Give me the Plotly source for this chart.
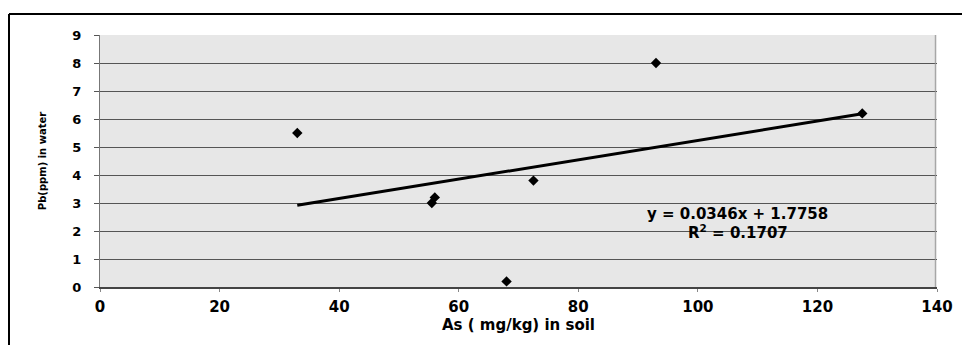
import numpy as np
import plotly.graph_objects as go

# Data
as_soil = [33.0, 55.5, 56.0, 68.0, 72.5, 93.0, 127.5]
pb_water = [5.5, 3.0, 3.2, 0.2, 3.8, 8.0, 6.2]
slope = 0.0346
intercept = 1.7758
r_squared = 0.1707
x_ticks = [0, 20, 40, 60, 80, 100, 120, 140]
y_ticks = [0, 1, 2, 3, 4, 5, 6, 7, 8, 9]

FONT = "DejaVu Sans, Liberation Sans, Arial, sans-serif"

x_line = [min(as_soil), max(as_soil)]
y_line = [slope * v + intercept for v in x_line]

fig = go.Figure()
fig.add_trace(go.Scatter(x=x_line, y=y_line, mode="lines",
                         line=dict(color="black", width=3), hoverinfo="skip"))
fig.add_trace(go.Scatter(x=as_soil, y=pb_water, mode="markers",
                         marker=dict(symbol="diamond", size=8, color="black")))

fig.update_layout(
    width=962, height=345,
    margin=dict(l=100, r=25, t=35, b=58, autoexpand=False),
    paper_bgcolor="white",
    plot_bgcolor="#e7e7e7",
    showlegend=False,
    font=dict(family=FONT, color="black"),
    xaxis=dict(range=[0, 140], tickvals=x_ticks, showgrid=False, zeroline=False,
               automargin=False,
               showline=True, linecolor="#444", linewidth=1.5, mirror=False,
               ticks="outside", ticklen=3, tickcolor="#888",
               tickfont=dict(size=15, family=FONT, weight="bold"),
               ticklabelstandoff=2,
               title=dict(text="As ( mg/kg) in soil", standoff=4,
                          font=dict(size=15, family=FONT, weight="bold"))),
    yaxis=dict(range=[0, 9], tickvals=y_ticks, showgrid=True, gridcolor="#555",
               automargin=False,
               gridwidth=1, zeroline=False, showline=True, linecolor="#777",
               linewidth=1, ticks="outside", ticklen=5, tickcolor="#555",
               tickfont=dict(size=13, family=FONT, weight="bold"),
               ticklabelstandoff=10,
               title=dict(text="Pb(ppm) in water", standoff=23,
                          font=dict(size=10, family=FONT, weight="bold"))),
    shapes=[
        dict(type="line", xref="paper", yref="paper", x0=0.998, x1=0.998, y0=0, y1=1,
             line=dict(color="#999", width=1)),
        dict(type="line", xref="paper", yref="paper", x0=-91/837, x1=1.1, y0=1+21/252, y1=1+21/252,
             line=dict(color="black", width=2)),
        dict(type="line", xref="paper", yref="paper", x0=-91/837, x1=-91/837, y0=-0.3, y1=1+21/252,
             line=dict(color="black", width=2)),
    ],
    annotations=[
        dict(x=106.7, y=2.62, xref="x", yref="y", showarrow=False,
             text=f"y = {slope}x + {intercept}",
             font=dict(size=15, family=FONT, weight="bold")),
        dict(x=106.7, y=1.98, xref="x", yref="y", showarrow=False,
             text=f"R<sup>2</sup> = {r_squared}",
             font=dict(size=15, family=FONT, weight="bold")),
    ],
)

fig.write_html("out.html")
